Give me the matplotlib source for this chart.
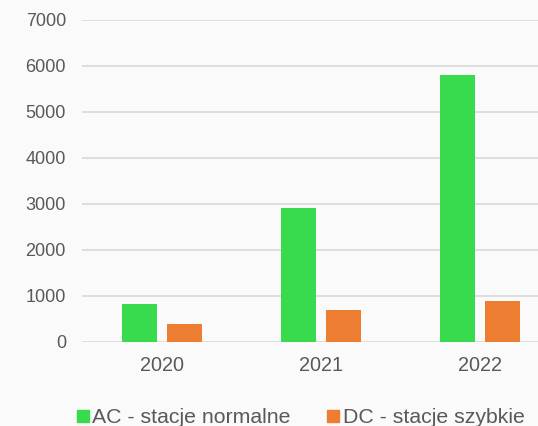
import matplotlib
matplotlib.use('Agg')
import matplotlib.pyplot as plt
from matplotlib.lines import Line2D
import numpy as np

plt.rcParams['font.family'] = ['Liberation Sans', 'DejaVu Sans']

# Dane
years = ['2020', '2021', '2022']
ac_values = [820, 2900, 5800]
dc_values = [390, 690, 890]
y_ticks = [0, 1000, 2000, 3000, 4000, 5000, 6000, 7000]

green = '#38db4e'
orange = '#ed7d31'
text_col = '#595959'
bg = '#fafafa'

fig = plt.figure(figsize=(5.38, 4.26), dpi=100, facecolor=bg)
# os x wychodzi nieco poza prawą krawędź, jak w oryginale
ax = fig.add_axes([0.1533, 0.198, 0.8866, 0.756])
ax.set_facecolor(bg)

x = np.arange(len(years))
w = 0.223
ax.bar(x - 0.143, ac_values, width=w, color=green, zorder=3)
ax.bar(x + 0.143, dc_values, width=w, color=orange, zorder=3)

ax.set_xlim(-0.5, 2.5)
ax.set_ylim(0, 7000)
ax.set_yticks(y_ticks)
ax.set_xticks(x)
ax.set_xticklabels(years)
ax.yaxis.grid(True, color='#d9d9d9', linewidth=1.2, zorder=0)
for s in ax.spines.values():
    s.set_visible(False)
ax.tick_params(axis='both', length=0, colors=text_col)
ax.tick_params(axis='y', pad=11.9, labelsize=13)
ax.tick_params(axis='x', pad=10, labelsize=14.3)

# legenda na dole, lekko ucięta jak w oryginale
handles = [Line2D([], [], marker='s', linestyle='', color=green, markersize=8),
           Line2D([], [], marker='s', linestyle='', color=orange, markersize=8)]
leg = fig.legend(handles, ['AC - stacje normalne', 'DC - stacje szybkie'],
                 loc='center', bbox_to_anchor=(301 / 538, 8.5 / 426), ncol=2,
                 frameon=False, fontsize=15.3, handletextpad=0.19,
                 columnspacing=1.74, handlelength=0.52, borderpad=0, borderaxespad=0)
for t in leg.get_texts():
    t.set_color(text_col)

fig.savefig('out.png', dpi=100, facecolor=bg)
